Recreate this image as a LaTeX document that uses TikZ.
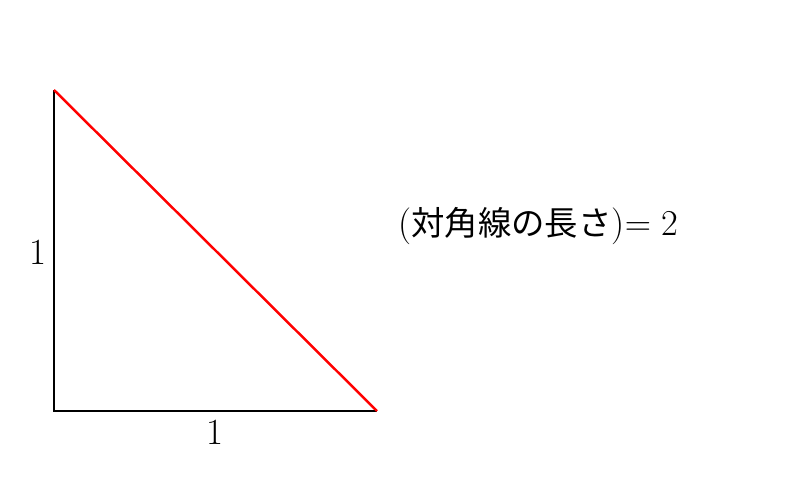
\documentclass[tikz,border=0pt]{standalone}
\usepackage{fontspec}
\newfontfamily\cjk{Noto Sans CJK JP}
\begin{document}
\begin{tikzpicture}[x=0.02cm,y=-0.02cm,
  edge/.style={line width=1.4pt},
  lbl/.style={font=\fontsize{21}{25}\selectfont, inner sep=0pt}]
\useasboundingbox (0,0) rectangle (800,500);
\coordinate (A) at (54,411);
\coordinate (B) at (54,90);
\coordinate (C) at (377,411);
\draw[edge] (B) -- (A) -- (C);
\draw[edge, red] (B) -- (C);
\node[lbl] (l1) at (38,252) {1};
\node[lbl] (l2) at (215,432) {1};
\node[lbl, anchor=west] (t) at (398,226) {({\cjk\fontsize{19}{25}\selectfont 対角線の長さ})$=2$};
\end{tikzpicture}
\end{document}
